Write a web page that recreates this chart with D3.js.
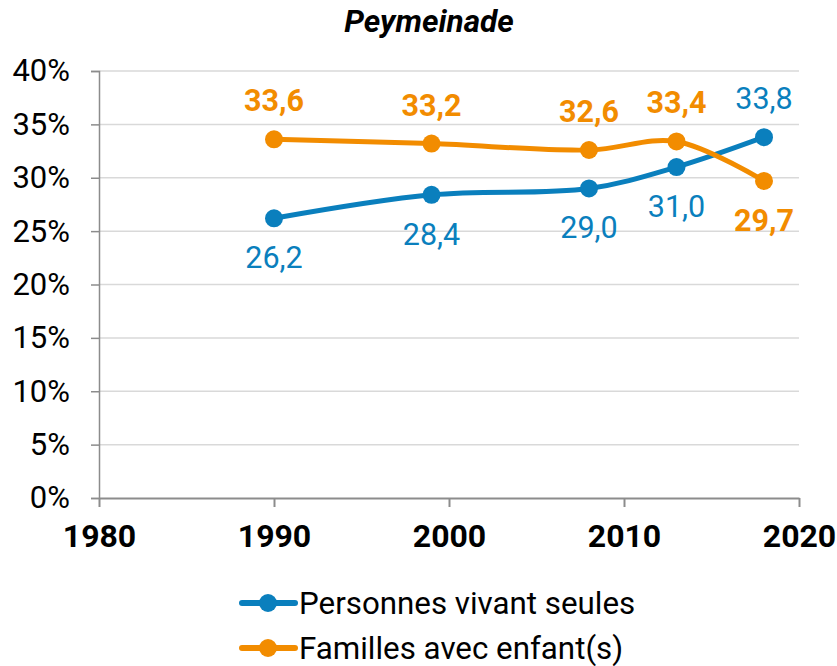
<!DOCTYPE html>
<html><head><meta charset="utf-8">
<script src="https://cdn.jsdelivr.net/npm/d3@7"></script>
<style>body{margin:0;background:#fff}svg{display:block}text{font-family:Roboto,"Noto Sans",sans-serif}</style>
</head><body><svg id="c" width="837" height="666"></svg>
<script>
const title = "Peymeinade";
const years = [1990, 1999, 2008, 2013, 2018];
const seules = [26.2, 28.4, 29.0, 31.0, 33.8];
const familles = [33.6, 33.2, 32.6, 33.4, 29.7];
const seriesNames = ["Personnes vivant seules", "Familles avec enfant(s)"];
const xTicks = [1980, 1990, 2000, 2010, 2020];
const yTicks = [0, 5, 10, 15, 20, 25, 30, 35, 40];
// label placement: 1 = above, -1 = below
const seulesPos = [-1, -1, -1, -1, 1];
const famillesPos = [1, 1, 1, 1, -1];

const blue = "#0a7fbd", orange = "#f28c00";
const svg = d3.select("#c");
const x = d3.scaleLinear().domain([1980, 2020]).range([99, 799]);
const y = d3.scaleLinear().domain([0, 40]).range([498, 71]);

svg.append("g").selectAll("line").data(yTicks.filter(d => d > 0)).join("line")
  .attr("x1", x(1980)).attr("x2", x(2020)).attr("y1", d => y(d)).attr("y2", d => y(d))
  .attr("stroke", "#d9d9d9").attr("stroke-width", 1.5);

const ya = svg.append("g").attr("transform", `translate(${x(1980)},0)`)
  .call(d3.axisLeft(y).tickValues(yTicks).tickFormat(d => d + "%").tickSize(8).tickPadding(21));
ya.select(".domain").attr("stroke", "#8c8c8c").attr("stroke-width", 1.5);
ya.selectAll(".tick line").attr("stroke", "#8c8c8c").attr("stroke-width", 1.5);
ya.selectAll(".tick text").attr("font-size", 31).attr("fill", "#000").attr("font-family", "Roboto");

const xa = svg.append("g").attr("transform", `translate(0,${y(0)})`)
  .call(d3.axisBottom(x).tickValues(xTicks).tickFormat(d3.format("d")).tickSize(9).tickSizeOuter(0).tickPadding(17));
xa.select(".domain").attr("stroke", "#8c8c8c").attr("stroke-width", 2);
xa.selectAll(".tick line").attr("stroke", "#8c8c8c").attr("stroke-width", 2);
xa.selectAll(".tick text").attr("font-size", 32).attr("font-weight", 700).attr("fill", "#000").attr("font-family", "Roboto");

svg.append("text").attr("x", 429).attr("y", 32).attr("text-anchor", "middle")
  .attr("font-size", 31.5).attr("font-weight", 700).attr("font-style", "italic").text(title);

const line = d3.line().x(d => x(d[0])).y(d => y(d[1])).curve(d3.curveCatmullRom.alpha(0.5));
const fmt = v => v.toFixed(1).replace(".", ",");

function drawSeries(vals, color, pos, bold) {
  const pts = years.map((yr, i) => [yr, vals[i]]);
  svg.append("path").attr("d", line(pts)).attr("fill", "none")
    .attr("stroke", color).attr("stroke-width", 5);
  svg.append("g").selectAll("circle").data(pts).join("circle")
    .attr("cx", d => x(d[0])).attr("cy", d => y(d[1])).attr("r", 9).attr("fill", color);
  svg.append("g").selectAll("text").data(pts).join("text")
    .attr("x", (d, i) => Math.min(x(d[0]), 773))
    .attr("y", (d, i) => y(d[1]) + (pos[i] > 0 ? -28 : 50))
    .attr("text-anchor", "middle").attr("font-size", 30.5)
    .attr("font-weight", bold ? 700 : 400).attr("fill", color)
    .text(d => fmt(d[1]));
}
drawSeries(seules, blue, seulesPos, false);
drawSeries(familles, orange, famillesPos, true);

const leg = svg.append("g");
[[blue, 603], [orange, 648]].forEach(([c, ly], i) => {
  leg.append("line").attr("x1", 242).attr("x2", 295).attr("y1", ly).attr("y2", ly)
    .attr("stroke", c).attr("stroke-width", 6).attr("stroke-linecap", "round");
  leg.append("circle").attr("cx", 268).attr("cy", ly).attr("r", 9).attr("fill", c);
  leg.append("text").attr("x", 299).attr("y", ly + 11).attr("font-size", 31.3)
    .attr("fill", "#000").text(seriesNames[i]);
});
</script></body></html>
